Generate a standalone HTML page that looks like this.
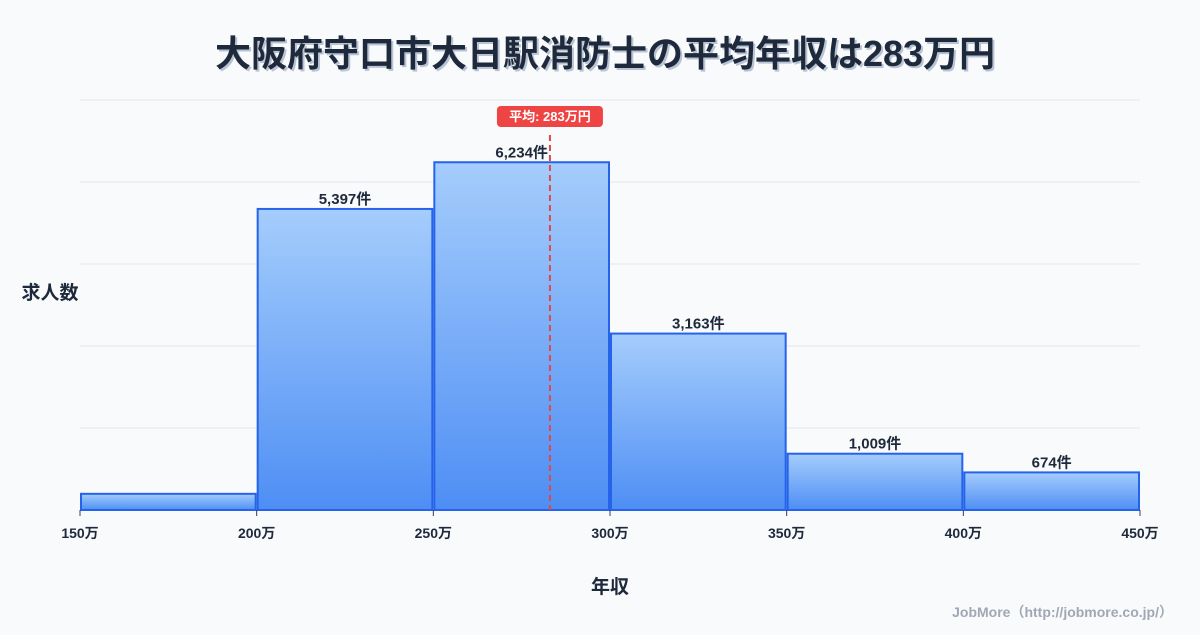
<!DOCTYPE html>
<html><head><meta charset="utf-8">
<style>
html,body{margin:0;padding:0;background:#f8fafc;}
body{width:1200px;height:630px;overflow:hidden;font-family:"Liberation Sans","Noto Sans CJK JP",sans-serif;}
svg text{font-family:"Liberation Sans","Noto Sans CJK JP",sans-serif;}
</style></head>
<body>
<svg id="chart" width="1200" height="630" xmlns="http://www.w3.org/2000/svg">
<defs>
<linearGradient id="g" x1="0" y1="0" x2="0" y2="1">
<stop offset="0" stop-color="#a5cdfc"/><stop offset="1" stop-color="#4e8ef4"/>
</linearGradient>
</defs>
<text x="607" y="68" text-anchor="middle" font-size="36" font-weight="bold" fill="#b8c4d4">大阪府守口市大日駅消防士の平均年収は283万円</text>
<text x="605" y="66" text-anchor="middle" font-size="36" font-weight="bold" fill="#1e293b">大阪府守口市大日駅消防士の平均年収は283万円</text>
<g id="grid"></g>
<g id="bars"></g>
<g id="xaxis"></g>
<text x="50" y="299" text-anchor="middle" font-size="19" font-weight="bold" fill="#1e293b">求人数</text>
<text x="610" y="593" text-anchor="middle" font-size="19" font-weight="bold" fill="#1e293b">年収</text>
<text x="1173" y="617" text-anchor="end" font-size="14" font-weight="bold" fill="#a0a8b4">JobMore（http://jobmore.co.jp/）</text>
</svg>
<script>
const binStarts=[150,200,250,300,350,400];
const binWidth=50;
const counts=[290,5397,6234,3163,1009,674];
const labels=["","5,397件","6,234件","3,163件","1,009件","674件"];
const xTicks=[150,200,250,300,350,400,450];
const meanValue=283;
const yMax=7350;
const NS="http://www.w3.org/2000/svg";
const X0=80,X1=1140,Y0=510,Y1=100;
const xs=v=>X0+(v-150)/(450-150)*(X1-X0);
const ys=v=>Y0-v/yMax*(Y0-Y1);
function mk(t,a,p){const e=document.createElementNS(NS,t);for(const k in a)e.setAttribute(k,a[k]);p.appendChild(e);return e;}
const grid=document.getElementById('grid');
for(let i=0;i<=5;i++){const y=Y0-i*(Y0-Y1)/5;
const l=mk('line',{x1:X0,x2:X1,y1:y,y2:y,stroke:'#e2e8f0','stroke-width':1},grid);

}
const bars=document.getElementById('bars');
counts.forEach((c,i)=>{
const x=xs(binStarts[i])+1,w=xs(binStarts[i]+binWidth)-xs(binStarts[i])-2,y=ys(c);
const r=mk('rect',{x:x,y:y,width:w,height:Y0-y,fill:'url(#g)',stroke:'#2563eb','stroke-width':2},bars);


if(labels[i]){const t=mk('text',{x:x+w/2,y:y-5,'text-anchor':'middle','font-size':15,'font-weight':'bold',fill:'#1e293b'},bars);t.textContent=labels[i];

}
});
const mx=xs(meanValue);
const ml=mk('line',{x1:mx,x2:mx,y1:135,y2:Y0,stroke:'#e04848','stroke-width':2,'stroke-dasharray':'6,4'},bars);


const bg=mk('rect',{x:mx-53,y:106,width:106,height:21,rx:4,fill:'#ef4444'},bars);


const mt=mk('text',{x:mx,y:121,'text-anchor':'middle','font-size':13,'font-weight':'bold',fill:'#fff'},bars);
mt.textContent='平均: '+meanValue+'万円';


const xa=document.getElementById('xaxis');
xTicks.forEach(v=>{const x=xs(v);
const tk=mk('line',{x1:x,x2:x,y1:Y0,y2:Y0+6,stroke:'#334155','stroke-width':1},xa);


const t=mk('text',{x:x,y:538,'text-anchor':'middle','font-size':14,'font-weight':'bold',fill:'#1e293b'},xa);
t.textContent=v+'万';

});
</script>
</body></html>
